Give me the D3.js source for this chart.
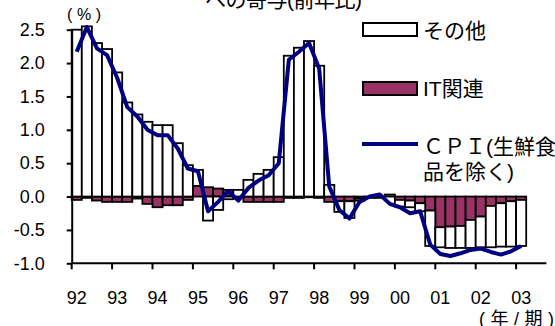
<!DOCTYPE html>
<html>
<head>
<meta charset="utf-8">
<script src="https://cdn.jsdelivr.net/npm/d3@7"></script>
<style>
  body { margin: 0; background: #fff; }
  text { font-family: "Liberation Sans", "Noto Sans CJK JP", sans-serif; }
</style>
</head>
<body>
<svg id="chart"></svg>
<script>
// years on the axis, quarters 92Q1 .. 03Q3 (data ends at 03Q1)
var years = ["92","93","94","95","96","97","98","99","00","01","02","03"];
var quarters = [];
years.forEach(function (y) {
    ["Q1","Q2","Q3","Q4"].forEach(function (q) { quarters.push(y + q); });
});
quarters = quarters.slice(0, 47);

// contribution of "other" items
var other = [2.50, 2.55, 2.30, 2.21, 1.86, 1.41, 1.23, 1.12, 1.07, 1.07, 0.80, 0.47,
    0.24, -0.36, -0.20, -0.04, 0.10, 0.25, 0.34, 0.40, 0.59, 2.11, 2.23, 2.33,
    1.96, 0.175, -0.16, -0.25, -0.03, 0.00, 0.00, 0.03, -0.10, -0.10, -0.12,
    -0.53, -0.30, -0.32, -0.33, -0.42, -0.46, -0.62, -0.65, -0.68, -0.69];

// contribution of IT related items
var itRel = [-0.05, -0.02, -0.06, -0.08, -0.08, -0.08, -0.03, -0.11, -0.16, -0.13, -0.13, -0.05,
    0.16, 0.14, 0.12, 0.10, -0.02, -0.08, -0.08, -0.08, -0.08, -0.02, -0.02, -0.01,
    -0.02, -0.08, -0.07, -0.07, -0.03, -0.02, -0.02, 0.00, -0.05, -0.06, -0.10,
    -0.21, -0.46, -0.45, -0.44, -0.35, -0.30, -0.14, -0.10, -0.07, -0.05];

// CPI (excl. fresh food), y/y %
var cpi = [2.17, 2.54, 2.22, 2.12, 1.78, 1.34, 1.20, 1.00, 0.92, 0.92, 0.72, 0.42,
    0.38, -0.22, -0.08, 0.08, -0.06, 0.13, 0.24, 0.32, 0.50, 2.05, 2.17, 2.30,
    1.92, 0.15, -0.20, -0.33, -0.08, 0.00, 0.03, -0.11, -0.16, -0.25, -0.22,
    -0.72, -0.86, -0.89, -0.85, -0.80, -0.78, -0.83, -0.87, -0.82, -0.74];

var yTicks = [-1.0, -0.5, 0.0, 0.5, 1.0, 1.5, 2.0, 2.5];

var width = 555, height = 326;
var svg = d3.select("#chart")
    .attr("width", width)
    .attr("height", height);

var xScale = d3.scaleBand()
    .domain(quarters)
    .range([71.7, 546.4])
    .padding(0);

var yScale = d3.scaleLinear()
    .domain([-1, 2.5])
    .range([263.3, 29.7]);

var rows = other.map(function (v, i) {
    return {q: quarters[i], it: itRel[i], other: v, cpi: cpi[i]};
});

var stack = d3.stack()
    .keys(["it", "other"])
    .offset(d3.stackOffsetDiverging);
var series = stack(rows);
var fills = {it: "#993366", other: "#ffffff"};

// title (cut at the top edge, as in the source)
svg.append("text")
    .attr("x", 205)
    .attr("y", 7)
    .attr("font-size", 21)
    .attr("textLength", 157)
    .attr("lengthAdjust", "spacing")
    .text("への寄与(前年比)");

// bars
svg.append("g").selectAll("g")
    .data(series)
    .enter()
    .append("g")
    .attr("fill", function (d) { return fills[d.key]; })
    .selectAll("rect")
    .data(function (d) { return d; })
    .enter()
    .append("rect")
    .attr("x", function (d) { return xScale(d.data.q); })
    .attr("width", xScale.bandwidth())
    .attr("y", function (d) { return yScale(Math.max(d[0], d[1])); })
    .attr("height", function (d) { return Math.abs(yScale(d[0]) - yScale(d[1])); })
    .attr("stroke", "#000")
    .attr("stroke-width", 1.8);

// y axis
var yAxis = svg.append("g")
    .attr("transform", "translate(71.7,0)")
    .call(d3.axisLeft(yScale)
        .tickValues(yTicks)
        .tickFormat(function (d) { return d.toFixed(1); })
        .tickSize(5)
        .tickSizeOuter(0)
        .tickPadding(22));
yAxis.select(".domain").attr("stroke-width", 2);
yAxis.selectAll(".tick line").attr("stroke-width", 2);
yAxis.selectAll("text")
    .attr("font-size", 18)
    .attr("font-family", "Liberation Sans, sans-serif")
    .attr("fill", "#000");

// x axis: ticks at year starts, labels under first quarter
var q1s = quarters.filter(function (q) { return q.slice(2) === "Q1"; });
var xAxis = svg.append("g");
xAxis.append("line")
    .attr("x1", xScale.range()[0])
    .attr("x2", xScale.range()[1])
    .attr("y1", yScale(-1))
    .attr("y2", yScale(-1))
    .attr("stroke", "#000")
    .attr("stroke-width", 2);
xAxis.selectAll(".xt")
    .data(q1s)
    .enter()
    .append("line")
    .attr("class", "xt")
    .attr("x1", function (d) { return xScale(d); })
    .attr("x2", function (d) { return xScale(d); })
    .attr("y1", yScale(-1))
    .attr("y2", yScale(-1) + 6)
    .attr("stroke", "#000")
    .attr("stroke-width", 2);
xAxis.selectAll(".xl")
    .data(q1s)
    .enter()
    .append("text")
    .attr("class", "xl")
    .attr("x", function (d) { return xScale(d) + xScale.bandwidth() / 2; })
    .attr("y", 304)
    .attr("text-anchor", "middle")
    .attr("font-size", 18)
    .text(function (d) { return d.slice(0, 2); });

// CPI line
var line = d3.line()
    .x(function (d) { return xScale(d.q) + xScale.bandwidth() / 2; })
    .y(function (d) { return yScale(d.cpi); });

svg.append("path")
    .datum(rows)
    .attr("fill", "none")
    .attr("stroke", "#000080")
    .attr("stroke-width", 4)
    .attr("stroke-linejoin", "round")
    .attr("d", line);

// unit labels
svg.append("text")
    .attr("x", 67)
    .attr("y", 20)
    .attr("font-size", 16)
    .attr("textLength", 34)
    .attr("lengthAdjust", "spacing")
    .text("(%)");
svg.append("text")
    .attr("x", 479)
    .attr("y", 325)
    .attr("font-size", 18)
    .attr("textLength", 75)
    .attr("lengthAdjust", "spacing")
    .text("(年/期)");

// legend
var legend = svg.append("g");
legend.append("rect")
    .attr("x", 363).attr("y", 23)
    .attr("width", 54).attr("height", 13)
    .attr("fill", fills.other)
    .attr("stroke", "#000").attr("stroke-width", 2);
legend.append("text")
    .attr("x", 423).attr("y", 38)
    .attr("font-size", 21)
    .text("その他");
legend.append("rect")
    .attr("x", 363).attr("y", 82)
    .attr("width", 54).attr("height", 13)
    .attr("fill", fills.it)
    .attr("stroke", "#000").attr("stroke-width", 2);
legend.append("text")
    .attr("x", 423).attr("y", 96)
    .attr("font-size", 21)
    .text("IT関連");
legend.append("line")
    .attr("x1", 362).attr("x2", 418)
    .attr("y1", 144).attr("y2", 144)
    .attr("stroke", "#000080")
    .attr("stroke-width", 4);
legend.append("text")
    .attr("x", 423).attr("y", 154)
    .attr("font-size", 21)
    .text("ＣＰＩ(生鮮食");
legend.append("text")
    .attr("x", 423).attr("y", 179)
    .attr("font-size", 21)
    .text("品を除く)");
</script>
</body>
</html>
